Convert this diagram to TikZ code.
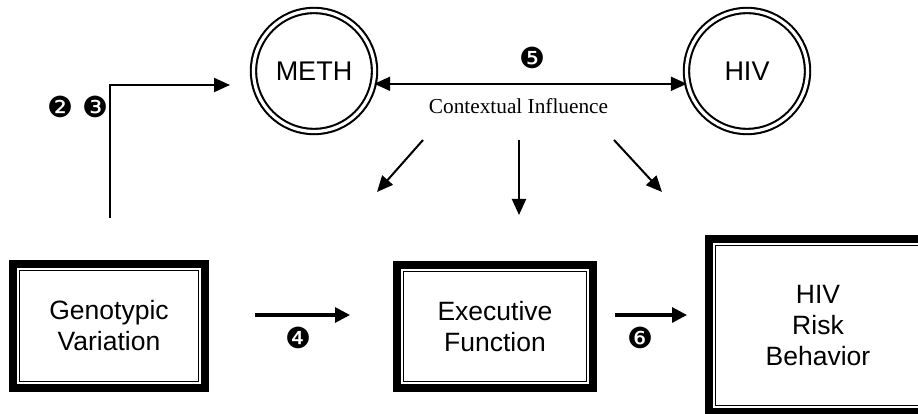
\documentclass[tikz,border=0pt]{standalone}
\usepackage{fontspec}
\newfontfamily\arialf{Liberation Sans}
\newfontfamily\tnrf{Liberation Serif}
\newfontfamily\djvf{DejaVu Sans}
\usetikzlibrary{arrows.meta}
\tikzset{
  ring/.style={circle, draw, double, line width=2.1pt, double distance=3.2pt,
    minimum size=121pt, inner sep=0pt, font=\arialf\fontsize{27}{30}\selectfont},
  frame/.style={rectangle, inner sep=0pt, align=center,
    font=\arialf\fontsize{26.5}{31}\selectfont,
    path picture={
      \draw[line width=8pt]
        ([shift={(4pt,-4pt)}]path picture bounding box.north west) rectangle
        ([shift={(-4pt,4pt)}]path picture bounding box.south east);
      \draw[line width=1.6pt]
        ([shift={(10.5pt,-10.5pt)}]path picture bounding box.north west) rectangle
        ([shift={(-10.5pt,10.5pt)}]path picture bounding box.south east);
    }},
  thin/.style={line width=2pt, -{Triangle[length=16pt,width=14pt]}},
  thick/.style={line width=3.2pt, -{Triangle[length=15pt,width=15pt]}},
  num/.style={inner sep=0pt, font=\djvf\fontsize{29}{29}\selectfont},
}
\begin{document}
\begin{tikzpicture}[x=1pt,y=-1pt]
\path[use as bounding box, clip] (0,0) rectangle (918,414);

\node[ring] (meth) at (314,71) {METH};
\node[ring] (hiv) at (747,71) {HIV};

\node[frame, minimum width=200pt, minimum height=132pt] (gen) at (109,326) {Genotypic\\Variation};
\node[frame, minimum width=204pt, minimum height=131pt] (exe) at (495,326.5) {Executive\\Function};
\node[frame, minimum width=226pt, minimum height=181pt] (risk) at (818,325.5) {HIV\\Risk\\Behavior};

\node[font=\tnrf\fontsize{21.3}{24}\selectfont, inner sep=0pt] (ctx) at (518.5,106) {Contextual Influence};

% double-headed arrow between METH and HIV
\draw[line width=2pt, {Triangle[length=16pt,width=14pt]}-{Triangle[length=16pt,width=14pt]}]
  (meth.-12) -- (hiv.192);

% elbow arrow from genotype
\coordinate (e0) at (110,218);
\coordinate (e1) at (230,85);
\draw[thin] (e0) |- (e1);

% contextual arrows
\coordinate (c1s) at (423,140); \coordinate (c1e) at (377,192);
\coordinate (c2s) at (519,140); \coordinate (c2e) at (519,215);
\coordinate (c3s) at (614,140); \coordinate (c3e) at (662,192);
\draw[thin] (c1s) -- (c1e);
\draw[thin] (c2s) -- (c2e);
\draw[thin] (c3s) -- (c3e);

% path arrows
\coordinate (a4s) at (255,315); \coordinate (a4e) at (350,315);
\coordinate (a6s) at (615,315); \coordinate (a6e) at (687,315);
\draw[thick] (a4s) -- (a4e);
\draw[thick] (a6s) -- (a6e);

% numbers
\node[num] (n2) at (60,107) {❷};
\node[num] (n3) at (95,107) {❸};
\node[num] (n4) at (298,338) {❹};
\node[num] (n5) at (532,58) {❺};
\node[num] (n6) at (640,338) {❻};
\end{tikzpicture}
\end{document}
